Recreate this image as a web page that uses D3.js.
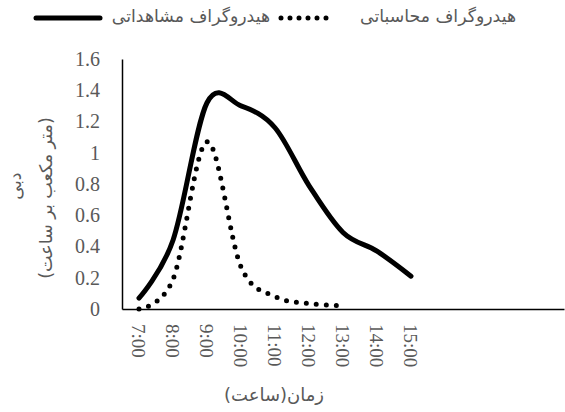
<!DOCTYPE html>
<html>
<head>
<meta charset="utf-8">
<script src="https://cdn.jsdelivr.net/npm/d3@7"></script>
<style>
  body { margin: 0; background: #fff; }
  svg text { fill: #595959; }
  .num { font-family: "Liberation Serif", "Times New Roman", serif; }
  .fa { font-family: "DejaVu Sans", "Noto Sans", sans-serif; }
</style>
</head>
<body>
<div id="chart"></div>
<script>
// hourly readings, 7:00 .. 15:00
var hours = [7, 8, 9, 10, 11, 12, 13, 14, 15]
var hourLabels = ["7:00", "8:00", "9:00", "10:00", "11:00", "12:00", "13:00", "14:00", "15:00"]
var observed = [0.07, 0.44, 1.32, 1.30, 1.16, 0.79, 0.49, 0.37, 0.21]   // هیدروگراف مشاهداتی
var computed = [0.00, 0.19, 1.07, 0.27, 0.08, 0.035, 0.02]               // هیدروگراف محاسباتی
var yTicks = [0, 0.2, 0.4, 0.6, 0.8, 1, 1.2, 1.4, 1.6]

const width = 565, height = 412
const mLeft = 122, mRight = 564, mTop = 59, mBottom = 309

let svg = d3.select("#chart").append("svg")
    .attr("width", width).attr("height", height)

// category axis: 13 slots, only the first 9 carry data
let x = d3.scaleLinear().domain([6.5, 19.5]).range([mLeft, mRight])
let y = d3.scaleLinear().domain([0, 1.6]).range([mBottom, mTop])

// y axis
let yAxis = svg.append("g").attr("transform", "translate(" + mLeft + ",0)")
    .call(d3.axisLeft(y).tickValues(yTicks).tickSize(0).tickPadding(22)
        .tickFormat(d => d3.format("")(d)))
yAxis.select(".domain").attr("stroke", "#000").attr("stroke-width", 1.5)
yAxis.selectAll("text").attr("class", "num").style("font-size", "20px").attr("fill", "#595959")

// x axis
let xAxis = svg.append("g").attr("transform", "translate(0," + mBottom + ")")
    .call(d3.axisBottom(x).tickValues(hours).tickSize(0)
        .tickFormat((d, i) => hourLabels[i]))
xAxis.select(".domain").attr("stroke", "#000").attr("stroke-width", 1.5)
xAxis.selectAll("text")
    .attr("class", "num").style("font-size", "19px").attr("fill", "#595959")
    .attr("y", 0).attr("dy", null)
    .attr("text-anchor", "start")
    .attr("dominant-baseline", "central")
    .attr("transform", "translate(-1,15) rotate(90)")

// lines
let line = d3.line()
    .x((d, i) => x(hours[i]))
    .y(d => y(d))
    .curve(d3.curveCardinal.tension(0))

svg.append("path").datum(observed)
    .attr("d", line)
    .attr("fill", "none").attr("stroke", "#000")
    .attr("stroke-width", 5).attr("stroke-linecap", "round").attr("stroke-linejoin", "round")

svg.append("path").datum(computed)
    .attr("d", line)
    .attr("fill", "none").attr("stroke", "#000")
    .attr("stroke-width", 5).attr("stroke-linecap", "round")
    .attr("stroke-dasharray", "0 10")

// axis titles
svg.append("g").attr("transform", "translate(15,186) rotate(-90)")
    .append("text").attr("class", "fa").attr("text-anchor", "middle")
    .attr("dominant-baseline", "central").style("font-size", "17.5px").text("دبی")
svg.append("g").attr("transform", "translate(46,198) rotate(-90)")
    .append("text").attr("class", "fa").attr("text-anchor", "middle")
    .attr("dominant-baseline", "central").style("font-size", "17.5px").text("(متر مکعب بر ساعت)")

svg.append("text").attr("class", "fa")
    .attr("x", 274).attr("y", 394).attr("text-anchor", "middle")
    .attr("dominant-baseline", "central").style("font-size", "18px").text("زمان(ساعت)")

// legend
let legend = svg.append("g")
legend.append("line")
    .attr("x1", 36).attr("x2", 100).attr("y1", 18).attr("y2", 18)
    .attr("stroke", "#000").attr("stroke-width", 5).attr("stroke-linecap", "round")
legend.append("text").attr("class", "fa")
    .attr("x", 270).attr("y", 16).attr("text-anchor", "end")
    .attr("dominant-baseline", "central").style("font-size", "17.3px").text("هیدروگراف مشاهداتی")
legend.append("line")
    .attr("x1", 281).attr("x2", 327).attr("y1", 18).attr("y2", 18)
    .attr("stroke", "#000").attr("stroke-width", 5).attr("stroke-linecap", "round")
    .attr("stroke-dasharray", "0 9")
legend.append("text").attr("class", "fa")
    .attr("x", 516).attr("y", 16).attr("text-anchor", "end")
    .attr("dominant-baseline", "central").style("font-size", "17.3px").text("هیدروگراف محاسباتی")
</script>
</body>
</html>
